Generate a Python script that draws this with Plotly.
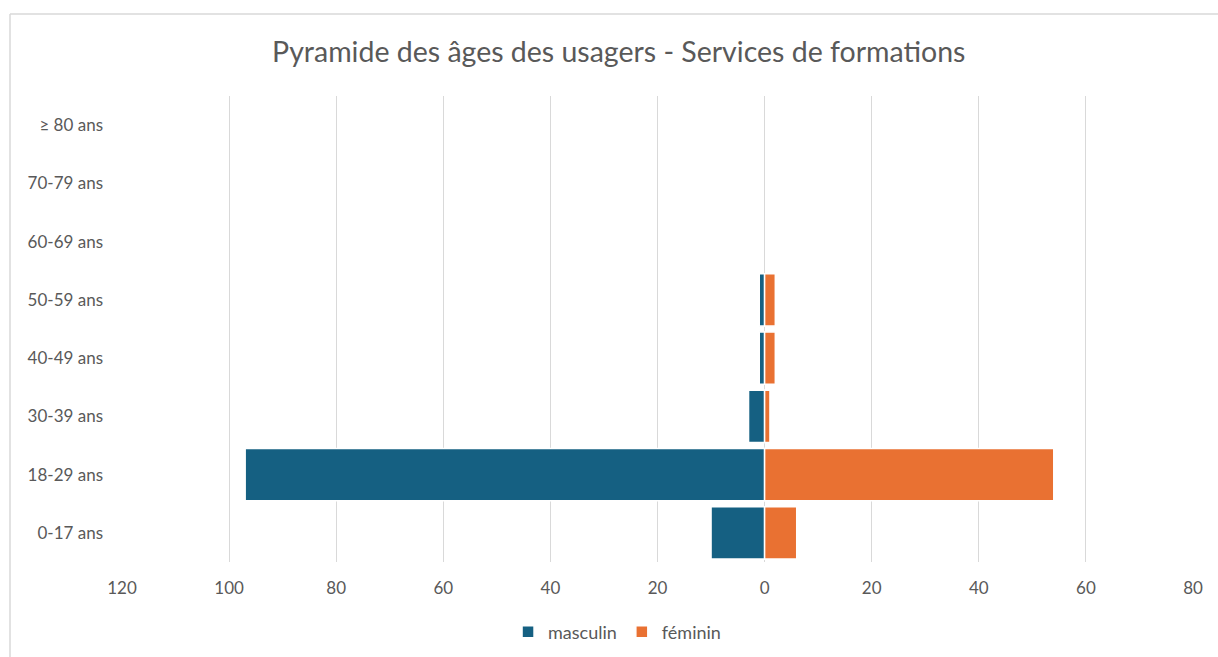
import plotly.graph_objects as go

categories = ["0-17 ans", "18-29 ans", "30-39 ans", "40-49 ans", "50-59 ans", "60-69 ans", "70-79 ans", "≥ 80 ans"]
masculin = [10, 97, 3, 1, 1, 0, 0, 0]
feminin = [6, 54, 1, 2, 2, 0, 0, 0]
tick_values = [-120, -100, -80, -60, -40, -20, 0, 20, 40, 60, 80]
tick_labels = ["120", "100", "80", "60", "40", "20", "0", "20", "40", "60", "80"]

FONT = "Lato, 'Open Sans', sans-serif"
GREY = "#595959"

fig = go.Figure()
fig.add_trace(go.Bar(
    y=categories, x=[-v if v else None for v in masculin], name="masculin", orientation="h",
    marker=dict(color="#156082", line=dict(color="white", width=1.5)),
    customdata=masculin, hovertemplate="%{y}: %{customdata}<extra>masculin</extra>",
))
fig.add_trace(go.Bar(
    y=categories, x=[v if v else None for v in feminin], name="féminin", orientation="h",
    marker=dict(color="#E97132", line=dict(color="white", width=1.5)),
    hovertemplate="%{y}: %{x}<extra>féminin</extra>",
))

fig.update_layout(
    width=1218, height=657,
    barmode="relative", bargap=0.1,
    paper_bgcolor="white", plot_bgcolor="white",
    margin=dict(l=122, r=25, t=96, b=95, autoexpand=False),
    title=dict(text="Pyramide des âges des usagers - Services de formations",
               x=0.508, xanchor="center", y=0.921, yanchor="middle",
               font=dict(family=FONT, size=28.5, color=GREY)),
    font=dict(family=FONT, size=17, color=GREY),
    xaxis=dict(range=[-120, 80], tickvals=tick_values, ticktext=tick_labels,
               showgrid=True, gridcolor="#d9d9d9", gridwidth=1,
               zeroline=False, showline=False, ticks="", automargin=False,
               ticklabelstandoff=14,
               tickfont=dict(family=FONT, size=17, color=GREY)),
    yaxis=dict(categoryorder="array", categoryarray=categories, range=[-0.5, 7.5],
               showgrid=False, zeroline=False, showline=False, ticks="", automargin=False,
               ticklabelstandoff=18,
               tickfont=dict(family=FONT, size=17, color=GREY)),
    legend=dict(orientation="h", xref="container", yref="container",
                x=0.5066, xanchor="center", y=(657 - 632) / 657, yanchor="middle",
                font=dict(family=FONT, size=18, color=GREY), itemwidth=30,
                traceorder="normal"),
    showlegend=True,
)

# outer chart border (left and top edges visible)
fig.add_shape(type="line", xref="paper", yref="paper",
              x0=(10 - 122) / 1071, x1=(10 - 122) / 1071,
              y0=(562 - 14) / 466, y1=(562 - 700) / 466,
              line=dict(color="#d9d9d9", width=1.5))
fig.add_shape(type="line", xref="paper", yref="paper",
              x0=(10 - 122) / 1071, x1=(1300 - 122) / 1071,
              y0=(562 - 14) / 466, y1=(562 - 14) / 466,
              line=dict(color="#d9d9d9", width=1.5))

fig.write_html("out.html", config={"displayModeBar": False},
               post_script="document.body.style.margin='0';")
